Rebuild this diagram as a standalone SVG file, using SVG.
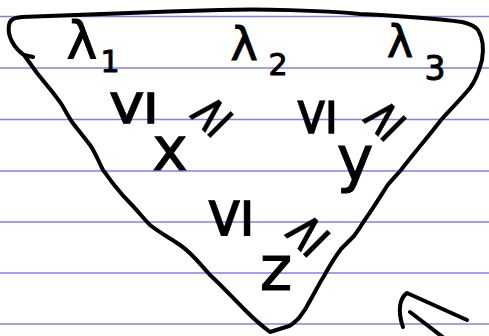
<svg xmlns="http://www.w3.org/2000/svg" width="489" height="336" viewBox="0 0 489 336">
<style>
.rule{stroke:#7f7ff5;stroke-width:1.6}
.ink{fill:none;stroke:#000;stroke-width:4;stroke-linecap:round;stroke-linejoin:round}
.t{font-family:"DejaVu Sans",sans-serif;fill:#000;stroke:#000;stroke-width:1;text-anchor:middle}
.rel{font-family:"DejaVu Sans",sans-serif;fill:#000;stroke:#000;stroke-width:0.3;text-anchor:middle;dominant-baseline:central;font-size:42px}
</style>
<rect width="489" height="336" fill="#fff"/>
<g id="paper">
<line class="rule" x1="0" y1="16.5" x2="489" y2="16.5"/>
<line class="rule" x1="0" y1="68" x2="489" y2="68"/>
<line class="rule" x1="0" y1="119.5" x2="489" y2="119.5"/>
<line class="rule" x1="0" y1="171" x2="489" y2="171"/>
<line class="rule" x1="0" y1="222" x2="489" y2="222"/>
<line class="rule" x1="0" y1="273" x2="489" y2="273"/>
<line class="rule" x1="0" y1="324" x2="489" y2="324"/>
</g>
<g id="triangle">
<path class="ink" d="M33,57 L24,55 C14,48 7,36 9,25 C10,19 14,18 22,17 C70,15 150,12 220,10 C260,9 320,10 360,14 C400,16 440,19 462,22 C470,24 476,27 478,30 C483,38 484,48 482,60 C479,72 476,80 470,88 C460,100 450,110 441,120 C428,137 414,153 401,170 C395,177 390,182 387,186 C380,197 372,210 364,221 C360,228 357,232 354,236 C349,241 345,245 341,249 C335,257 329,267 324,276 C319,284 315,292 311,299 C307,307 303,313 299,318 C295,322 292,325 289,326 L270,332 C262,326 253,318 245,310 C233,298 222,286 210,275 C200,264 192,253 180,245 C170,238 160,233 150,225 C143,218 137,210 130,203 C124,197 119,191 115,186 C110,180 107,175 103,170 C98,160 95,152 90,145 C84,137 78,130 72,122 C68,116 65,110 62,105 C58,99 54,94 50,89 C45,83 41,78 37,73 L24,55"/>
</g>
<g id="arrow">
<path class="ink" d="M467,320 C445,310 425,301 407,293 C400,298 397,310 403,327"/>
<path class="ink" d="M410,312 L444,338"/>
</g>
<g id="lambda1"><text class="t" x="82" y="58" font-size="52">λ</text><text class="t" x="110" y="72" font-size="30">1</text></g>
<g id="lambda2"><text class="t" x="244" y="60" font-size="46">λ</text><text class="t" x="278" y="75" font-size="30">2</text></g>
<g id="lambda3"><text class="t" x="400" y="57" font-size="44">λ</text><text class="t" x="435" y="80" font-size="33">3</text></g>
<g id="x"><text class="t" x="170" y="170" font-size="60">x</text></g>
<g id="y"><text class="t" x="355" y="180" font-size="62">y</text></g>
<g id="z"><text class="t" x="276" y="290" font-size="62">z</text></g>
<g id="relations">
<text class="rel" transform="translate(128,108) rotate(-90) scale(1.2,1.8)">≤</text>
<text class="rel" transform="translate(312,117) rotate(-90) scale(1.25,1.5)">≤</text>
<text class="rel" transform="translate(225,218) rotate(-90) scale(1.35,1.7)">≤</text>
<text class="rel" transform="translate(209,113) rotate(-45) scale(1.25)">≥</text>
<text class="rel" transform="translate(382,117) rotate(-45) scale(1.25)">≥</text>
<text class="rel" transform="translate(305,232) rotate(-45) scale(1.3)">≥</text>
</g>
</svg>
